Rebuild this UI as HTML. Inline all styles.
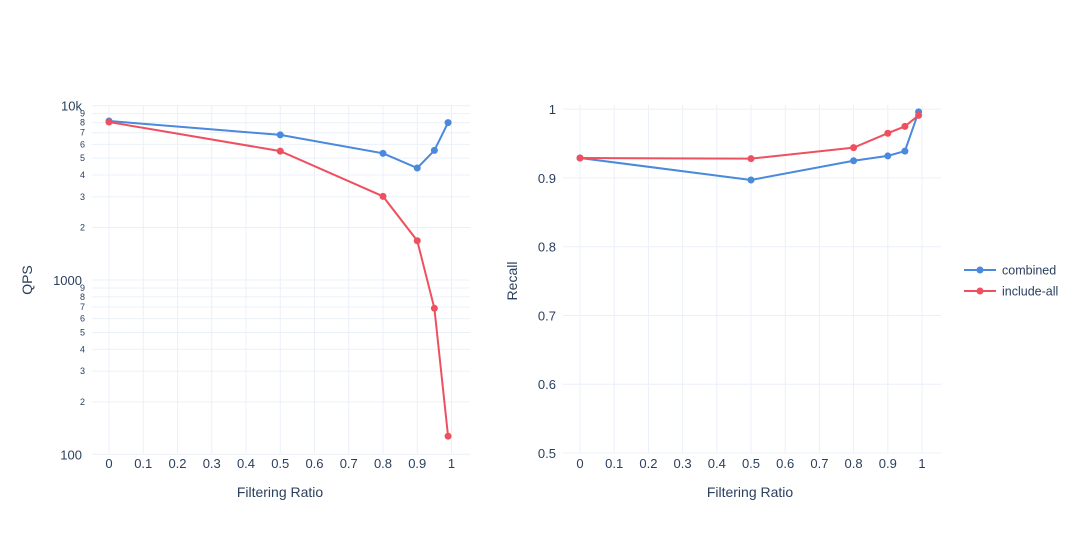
<!DOCTYPE html>
<html><head><meta charset="utf-8"><style>
body{margin:0;background:#fff;}
svg{font-family:"Liberation Sans",sans-serif;fill:#2a3f5f;}
</style></head><body>
<svg id="chart" width="1080" height="540" xmlns="http://www.w3.org/2000/svg">
<g id="left"></g>
<g id="right"></g>
<g id="legend"></g>
</svg>
<script>
const ratios = [0, 0.5, 0.8, 0.9, 0.95, 0.99];
const qpsCombined = [8170, 6800, 5330, 4390, 5540, 8000];
const qpsIncludeAll = [8060, 5490, 3020, 1680, 688, 127];
const recallCombined = [0.929, 0.897, 0.925, 0.932, 0.939, 0.996];
const recallIncludeAll = [0.929, 0.928, 0.944, 0.965, 0.975, 0.991];
const xTicks = [0, 0.1, 0.2, 0.3, 0.4, 0.5, 0.6, 0.7, 0.8, 0.9, 1];
const recallTicks = [0.5, 0.6, 0.7, 0.8, 0.9, 1];
const seriesNames = ["combined", "include-all"];
const colors = ["#4a89dc", "#ef5060"];

const NS = "http://www.w3.org/2000/svg";
function mk(parent, tag, attrs, text){
  const e = document.createElementNS(NS, tag);
  for (const k in attrs) e.setAttribute(k, attrs[k]);
  if (text !== undefined) e.textContent = text;
  parent.appendChild(e); return e;
}
const grid = "#ebf0f8";
const PT = 105, PB = 453;

const L = document.getElementById('left');
const lx = v => 109 + v * 342.5;
const ly = v => 280 - (Math.log10(v) - 3) * 174.3;
for (let d = 100; d <= 10000; d *= 10) {
  for (let m = 1; m <= 9; m++) {
    const v = d * m; if (v > 10000) break;
    const y = ly(v);
    const gl = mk(L, 'line', {x1: 92, x2: 470, y1: y, y2: y, stroke: grid, 'stroke-width': 1});
    
    
    const major = m === 1;
    const lbl = major ? (v === 10000 ? '10k' : String(v)) : String(m);
    const t = mk(L, 'text', {x: major ? 82 : 85, y: y + (major ? 5 : 3), 'text-anchor': 'end', 'font-size': major ? 13 : 9}, lbl);
    
    
  }
}
const R = document.getElementById('right');
const rx = v => 580 + v * 342;
const ry = v => 453 - (v - 0.5) * 687.7;
recallTicks.forEach(v => {
  const y = ry(v);
  const gl = mk(R, 'line', {x1: 563, x2: 941, y1: y, y2: y, stroke: grid, 'stroke-width': 1});
  
  
  const t = mk(R, 'text', {x: 556, y: y + 5, 'text-anchor': 'end', 'font-size': 13}, String(v));
  
  
});
[[L, lx], [R, rx]].forEach(([g, sx]) => {
  xTicks.forEach(v => {
    const x = sx(v);
    const gl = mk(g, 'line', {x1: x, x2: x, y1: PT, y2: PB, stroke: grid, 'stroke-width': 1});
    
    
    const t = mk(g, 'text', {x: x, y: 468, 'text-anchor': 'middle', 'font-size': 13}, String(v));
    
    
  });
});
function series(g, sx, sy, vals, color, name){
  const pts = ratios.map((r, i) => sx(r) + ',' + sy(vals[i])).join(' ');
  const pl = mk(g, 'polyline', {points: pts, fill: 'none', stroke: color, 'stroke-width': 2});
  
  
  ratios.forEach((r, i) => {
    const c = mk(g, 'circle', {cx: sx(r), cy: sy(vals[i]), r: 3.5, fill: color});
    
    
  });
}
series(L, lx, ly, qpsCombined, colors[0], 'combined');
series(L, lx, ly, qpsIncludeAll, colors[1], 'include-all');
series(R, rx, ry, recallCombined, colors[0], 'combined');
series(R, rx, ry, recallIncludeAll, colors[1], 'include-all');

let t;
t = mk(L, 'text', {x: 280, y: 497, 'text-anchor': 'middle', 'font-size': 14}, 'Filtering Ratio');
 
t = mk(R, 'text', {x: 750, y: 497, 'text-anchor': 'middle', 'font-size': 14}, 'Filtering Ratio');
 
t = mk(L, 'text', {x: 32, y: 280, 'text-anchor': 'middle', 'font-size': 14, transform: 'rotate(-90 32 280)'}, 'QPS');
 
t = mk(R, 'text', {x: 517, y: 281, 'text-anchor': 'middle', 'font-size': 14, transform: 'rotate(-90 517 281)'}, 'Recall');
 

const G = document.getElementById('legend');
seriesNames.forEach((n, i) => {
  const y = 270 + i * 21;
  const e = mk(G, 'g', {});
  
  
  mk(e, 'line', {x1: 964, x2: 996, y1: y, y2: y, stroke: colors[i], 'stroke-width': 2});
  mk(e, 'circle', {cx: 980, cy: y, r: 3.5, fill: colors[i]});
  mk(e, 'text', {x: 1002, y: y + 4.5, 'font-size': 12.5}, n);
});
</script>
</body></html>
